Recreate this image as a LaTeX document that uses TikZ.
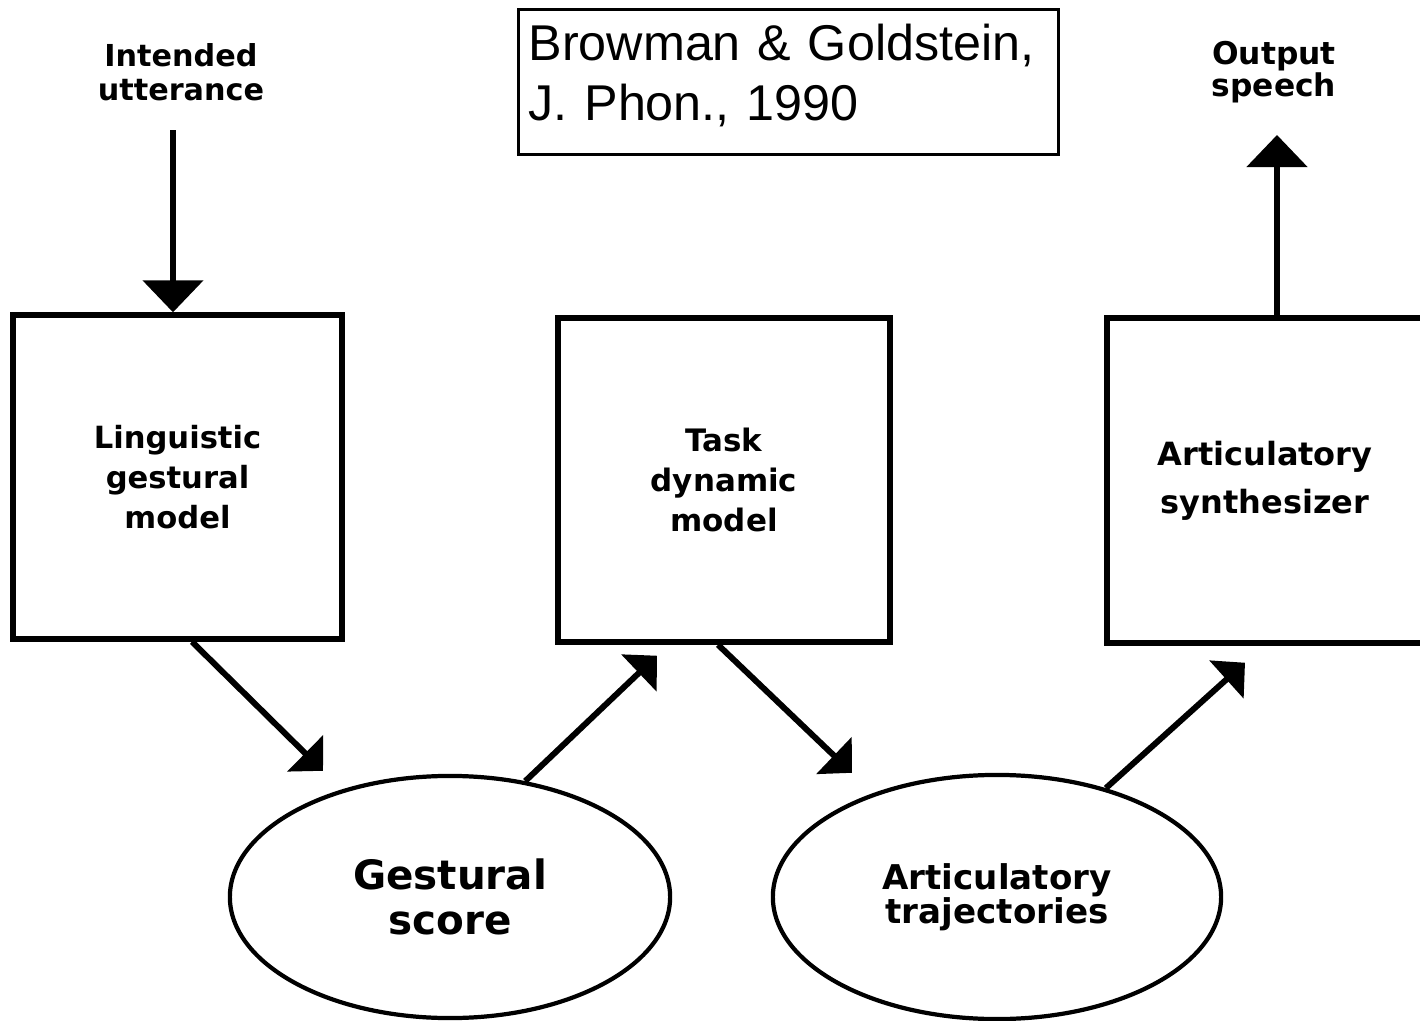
\documentclass[tikz,border=0pt]{standalone}
\usepackage{fontspec}
\setmainfont{Liberation Sans}
\newfontfamily\diagfont{DejaVu Sans}
\usetikzlibrary{shapes.geometric,arrows.meta,calc}

\tikzset{
  block/.style={draw, line width=1.5pt, minimum width=3.29cm, minimum height=3.24cm,
    align=center, inner sep=0pt},
  blob/.style={ellipse, draw, line width=1.2pt, inner sep=0pt, align=center},
  cite/.style={draw, line width=0.9pt, align=left, text width=5.2cm, inner xsep=0.1cm,
    minimum height=1.45cm, font=\fontsize{14.3}{17}\selectfont},
  toplabel/.style={align=center, inner sep=0pt},
  darr/.style={line width=1.7pt, -{Triangle[length=0.25cm, width=0.5cm]}},
  varr/.style={line width=1.5pt, -{Triangle[length=0.32cm, width=0.6cm]}},
}

\begin{document}
\begin{tikzpicture}[x=0.01cm, y=-0.01cm]
\useasboundingbox (0,0) rectangle (1420,1021);

% citation
\node[cite, anchor=north west] (cite) at (517,8) {Browman \& Goldstein,\\J. Phon., 1990\rule[-5.6pt]{0pt}{1pt}};

% input and output labels
\node[toplabel, font=\diagfont\bfseries\fontsize{8.6}{9.8}\selectfont] (intent) at (181,72) {Intended\\utterance};
\node[toplabel, font=\diagfont\bfseries\fontsize{8.9}{9.2}\selectfont] (output) at (1274,72) {Output\\speech};

% models
\node[block, font=\diagfont\bfseries\fontsize{8.7}{11.4}\selectfont] (ling) at (177.5,477) {Linguistic\\gestural\\model};
\node[block, minimum width=3.32cm, font=\diagfont\bfseries\fontsize{8.8}{11.4}\selectfont] (task) at (724,480) {Task\\dynamic\\model};
\node[block, minimum width=3.16cm, minimum height=3.25cm, font=\diagfont\bfseries\fontsize{9.1}{13.6}\selectfont] (synth) at (1265,480.5) {Articulatory\\synthesizer};

% representations
\node[blob, minimum width=4.4cm, minimum height=2.42cm, font=\diagfont\bfseries\fontsize{11.5}{12.8}\selectfont] (ges) at (450,897) {Gestural\\score};
\node[blob, minimum width=4.48cm, minimum height=2.44cm, font=\diagfont\bfseries\fontsize{9.7}{9.6}\selectfont] (traj) at (997,897) {Articulatory\\trajectories};

% arrows
\coordinate (inTop) at (173,130);
\coordinate (outTop) at (1277,135);
\draw[varr] (inTop) -- (inTop |- ling.north);
\draw[varr] (outTop |- synth.north) -- (outTop);

\draw[darr] ($(ling.south)+(14.5,0)$) -- ($(ges.north)+(-127,-3)$);
\draw[darr] (ges.57) -- ($(task.south)+(-67,11)$);
\draw[darr] ($(task.south)+(-6,0)$) -- ($(traj.north)+(-145,0)$);
\draw[darr] (traj.45) -- ($(synth.south)+(-20,17)$);
\end{tikzpicture}
\end{document}
